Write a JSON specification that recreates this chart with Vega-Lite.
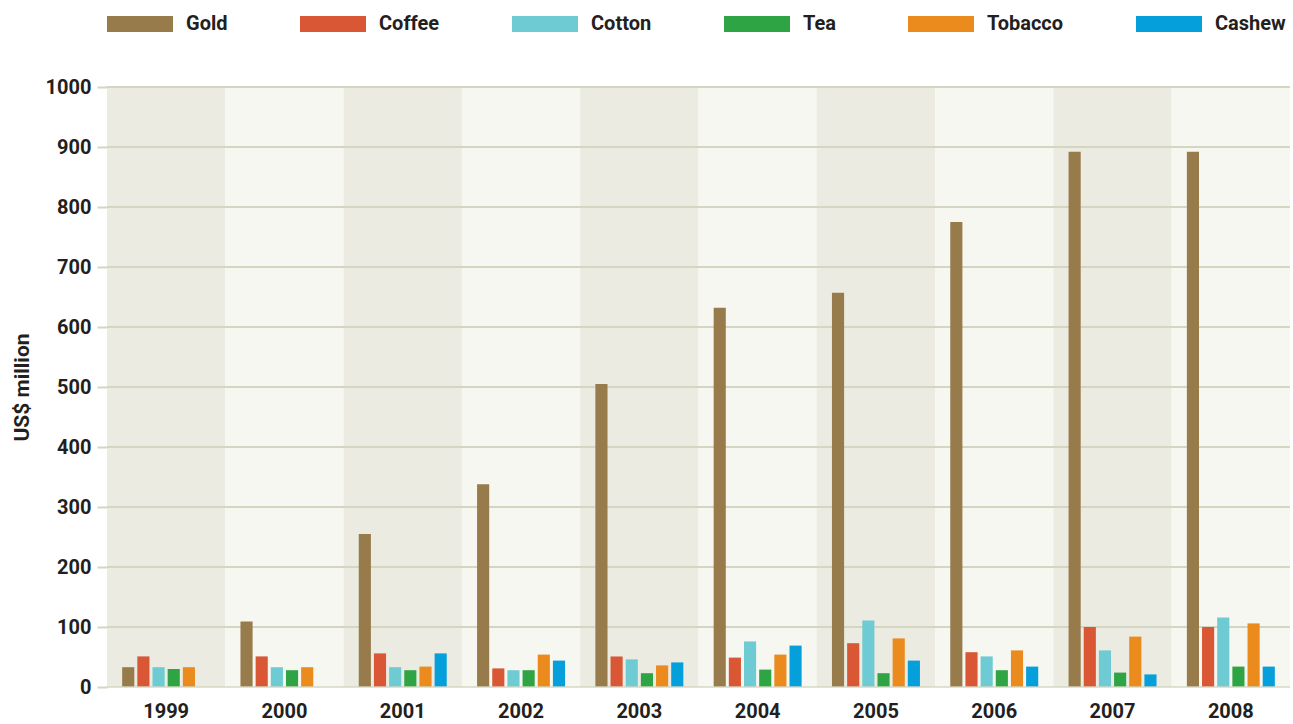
{
  "$schema": "https://vega.github.io/schema/vega-lite/v6.json",
  "width": 1183,
  "height": 600,
  "autosize": {"type": "none"},
  "padding": {"left": 107, "top": 87, "right": 3, "bottom": 37},
  "background": "white",
  "config": {
    "view": {"stroke": null},
    "font": "Roboto",
    "legend": {
      "orient": "none",
      "legendX": 0,
      "legendY": -96,
      "direction": "horizontal",
      "symbolType": "M-1,-0.2424H1V0.2424H-1Z",
      "symbolSize": 4356,
      "symbolStrokeWidth": 0,
      "symbolOpacity": 1,
      "labelFont": "Roboto",
      "labelFontSize": 20,
      "labelFontWeight": "bold",
      "labelColor": "#231f20",
      "labelOffset": 13,
      "columnPadding": 72
    }
  },
  "datasets": {
    "years": [
      {"Year": 1999}, {"Year": 2000}, {"Year": 2001}, {"Year": 2002}, {"Year": 2003},
      {"Year": 2004}, {"Year": 2005}, {"Year": 2006}, {"Year": 2007}, {"Year": 2008}
    ],
    "ticks": [
      {"v": 100}, {"v": 200}, {"v": 300}, {"v": 400}, {"v": 500},
      {"v": 600}, {"v": 700}, {"v": 800}, {"v": 900}, {"v": 1000}
    ],
    "exports": [
      {"Year": 1999, "Commodity": "Gold", "Value": 33},
      {"Year": 1999, "Commodity": "Coffee", "Value": 51},
      {"Year": 1999, "Commodity": "Cotton", "Value": 33},
      {"Year": 1999, "Commodity": "Tea", "Value": 30},
      {"Year": 1999, "Commodity": "Tobacco", "Value": 33},
      {"Year": 2000, "Commodity": "Gold", "Value": 109},
      {"Year": 2000, "Commodity": "Coffee", "Value": 51},
      {"Year": 2000, "Commodity": "Cotton", "Value": 33},
      {"Year": 2000, "Commodity": "Tea", "Value": 28},
      {"Year": 2000, "Commodity": "Tobacco", "Value": 33},
      {"Year": 2001, "Commodity": "Gold", "Value": 255},
      {"Year": 2001, "Commodity": "Coffee", "Value": 56},
      {"Year": 2001, "Commodity": "Cotton", "Value": 33},
      {"Year": 2001, "Commodity": "Tea", "Value": 28},
      {"Year": 2001, "Commodity": "Tobacco", "Value": 34},
      {"Year": 2001, "Commodity": "Cashew", "Value": 56},
      {"Year": 2002, "Commodity": "Gold", "Value": 338},
      {"Year": 2002, "Commodity": "Coffee", "Value": 31},
      {"Year": 2002, "Commodity": "Cotton", "Value": 28},
      {"Year": 2002, "Commodity": "Tea", "Value": 28},
      {"Year": 2002, "Commodity": "Tobacco", "Value": 54},
      {"Year": 2002, "Commodity": "Cashew", "Value": 44},
      {"Year": 2003, "Commodity": "Gold", "Value": 505},
      {"Year": 2003, "Commodity": "Coffee", "Value": 51},
      {"Year": 2003, "Commodity": "Cotton", "Value": 46},
      {"Year": 2003, "Commodity": "Tea", "Value": 23},
      {"Year": 2003, "Commodity": "Tobacco", "Value": 36},
      {"Year": 2003, "Commodity": "Cashew", "Value": 41},
      {"Year": 2004, "Commodity": "Gold", "Value": 632},
      {"Year": 2004, "Commodity": "Coffee", "Value": 49},
      {"Year": 2004, "Commodity": "Cotton", "Value": 76},
      {"Year": 2004, "Commodity": "Tea", "Value": 29},
      {"Year": 2004, "Commodity": "Tobacco", "Value": 54},
      {"Year": 2004, "Commodity": "Cashew", "Value": 69},
      {"Year": 2005, "Commodity": "Gold", "Value": 657},
      {"Year": 2005, "Commodity": "Coffee", "Value": 73},
      {"Year": 2005, "Commodity": "Cotton", "Value": 111},
      {"Year": 2005, "Commodity": "Tea", "Value": 23},
      {"Year": 2005, "Commodity": "Tobacco", "Value": 81},
      {"Year": 2005, "Commodity": "Cashew", "Value": 44},
      {"Year": 2006, "Commodity": "Gold", "Value": 775},
      {"Year": 2006, "Commodity": "Coffee", "Value": 58},
      {"Year": 2006, "Commodity": "Cotton", "Value": 51},
      {"Year": 2006, "Commodity": "Tea", "Value": 28},
      {"Year": 2006, "Commodity": "Tobacco", "Value": 61},
      {"Year": 2006, "Commodity": "Cashew", "Value": 34},
      {"Year": 2007, "Commodity": "Gold", "Value": 892},
      {"Year": 2007, "Commodity": "Coffee", "Value": 100},
      {"Year": 2007, "Commodity": "Cotton", "Value": 61},
      {"Year": 2007, "Commodity": "Tea", "Value": 24},
      {"Year": 2007, "Commodity": "Tobacco", "Value": 84},
      {"Year": 2007, "Commodity": "Cashew", "Value": 21},
      {"Year": 2008, "Commodity": "Gold", "Value": 892},
      {"Year": 2008, "Commodity": "Coffee", "Value": 100},
      {"Year": 2008, "Commodity": "Cotton", "Value": 116},
      {"Year": 2008, "Commodity": "Tea", "Value": 34},
      {"Year": 2008, "Commodity": "Tobacco", "Value": 106},
      {"Year": 2008, "Commodity": "Cashew", "Value": 34}
    ]
  },
  "layer": [
    {
      "data": {"name": "years"},
      "mark": {"type": "rect"},
      "encoding": {
        "x": {
          "field": "Year",
          "type": "ordinal",
          "scale": {"paddingInner": 0, "paddingOuter": 0},
          "axis": {
            "title": null,
            "domain": false,
            "ticks": false,
            "labelAngle": 0,
            "labelPadding": 14,
            "labelFont": "Roboto",
            "labelFontSize": 20,
            "labelFontWeight": "bold",
            "labelColor": "#231f20"
          }
        },
        "y": {
          "datum": 1000,
          "type": "quantitative",
          "scale": {"domain": [0, 1000], "nice": false},
          "axis": {
            "title": "US$ million",
            "titleFont": "Roboto",
            "titleFontSize": 21,
            "titleFontWeight": "bold",
            "titleColor": "#231f20",
            "titlePadding": 13,
            "format": "d",
            "values": [0, 100, 200, 300, 400, 500, 600, 700, 800, 900, 1000],
            "grid": false,
            "domain": false,
            "tickSize": 10,
            "tickWidth": 2,
            "tickColor": "#d3d6c0",
            "labelPadding": 6,
            "labelFont": "Roboto",
            "labelFontSize": 20,
            "labelFontWeight": "bold",
            "labelColor": "#231f20"
          }
        },
        "y2": {"datum": 0},
        "fill": {
          "condition": {"test": "datum.Year % 2 === 1", "value": "#ebebe2"},
          "value": "#f7f7f2"
        }
      }
    },
    {
      "data": {"name": "ticks"},
      "mark": {"type": "rule", "color": "#d3d6c0", "strokeWidth": 2},
      "encoding": {
        "y": {"field": "v", "type": "quantitative"}
      }
    },
    {
      "data": {"name": "exports"},
      "mark": {"type": "bar", "width": {"band": 1}},
      "encoding": {
        "x": {"field": "Year", "type": "ordinal"},
        "xOffset": {
          "field": "Commodity",
          "type": "nominal",
          "scale": {
            "domain": ["Gold", "Coffee", "Cotton", "Tea", "Tobacco", "Cashew"],
            "paddingInner": 0.2,
            "paddingOuter": 1.04
          }
        },
        "y": {"field": "Value", "type": "quantitative"},
        "color": {
          "field": "Commodity",
          "type": "nominal",
          "scale": {
            "domain": ["Gold", "Coffee", "Cotton", "Tea", "Tobacco", "Cashew"],
            "range": ["#977b4b", "#d95734", "#6ecbd3", "#2ea445", "#eb8a1d", "#059fdb"]
          },
          "legend": {"title": null}
        }
      }
    },
    {
      "data": {"values": [{"v": 0}]},
      "mark": {"type": "rule", "color": "#d3d6c0", "strokeWidth": 2, "opacity": 0.7},
      "encoding": {
        "y": {"field": "v", "type": "quantitative"}
      }
    }
  ]
}
